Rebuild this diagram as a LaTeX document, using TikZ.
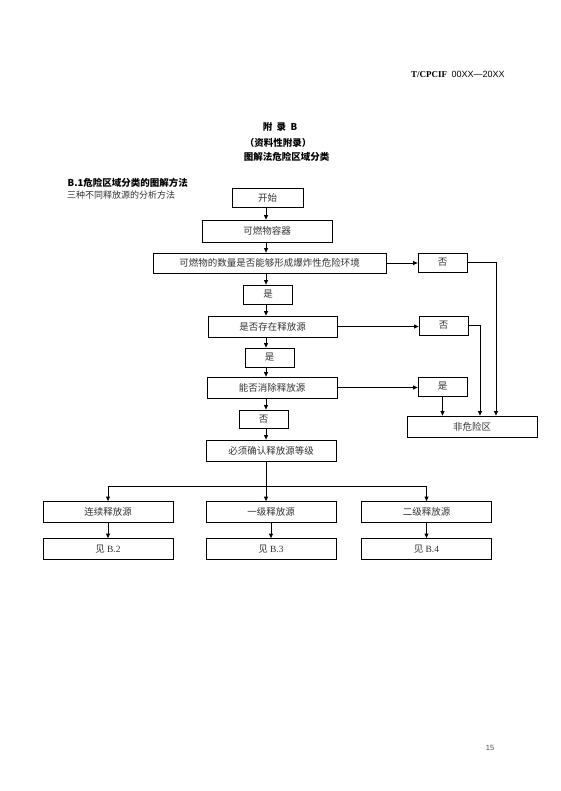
\documentclass[tikz,border=0pt]{standalone}
\usepackage{fontspec}
\setmainfont{Liberation Serif}
\newfontfamily\cjk{Noto Sans CJK SC}
\newfontfamily\hdsans{Liberation Sans}
\usetikzlibrary{arrows.meta}

\begin{document}
\begin{tikzpicture}[x=1pt,y=-1pt,
    box/.style={draw,line width=0.8pt,inner sep=0pt,text=black!80,
      font=\cjk\fontsize{9.5}{11}\selectfont},
    yn/.style={box,minimum width=49pt,minimum height=19pt},
    wide/.style={box,minimum width=130pt,minimum height=21pt},
    arr/.style={line width=0.8pt,-{Triangle[length=4.5pt,width=4pt]}},
    ln/.style={line width=0.8pt}]
        \useasboundingbox[fill=white] (0,0) rectangle (560,791);
        % page head
        \node[anchor=west,inner sep=0pt] (code) at (411,74)
          {\fontsize{9}{10}\selectfont\bfseries T/CPCIF\ \ {\hdsans\mdseries 00XX—20XX}};
        \node[font=\cjk\bfseries\fontsize{9.5}{11}\selectfont] (app) at (280,127) {附\ \ 录\ \ B};
        \node[font=\cjk\bfseries\fontsize{9.5}{11}\selectfont] (inf) at (278,143) {（资料性附录）};
        \node[font=\cjk\bfseries\fontsize{9.5}{11}\selectfont] (ttl) at (286.5,157) {图解法危险区域分类};
        \node[anchor=west,inner sep=0pt,font=\cjk\bfseries\fontsize{9.5}{11}\selectfont] (sec) at (67.5,183) {B.1危险区域分类的图解方法};
        \node[anchor=west,inner sep=0pt,text=black!80,font=\cjk\fontsize{9}{11}\selectfont] (sub) at (67,195.5) {三种不同释放源的分析方法};
        \node[font=\hdsans\fontsize{7.5}{9}\selectfont,text=black!70] (pg) at (490,748) {15};
        % flow chart
        \coordinate (tk) at (266,0);
        \node[box,minimum width=71pt,minimum height=19pt] (start) at (267.5,197.5) {开始};
        \node[wide,minimum height=22pt] (cont) at (267,231) {可燃物容器};
        \node[box,minimum width=233pt,minimum height=20pt] (qty) at (269.5,263) {可燃物的数量是否能够形成爆炸性危险环境};
        \node[yn] (no1) at (442.5,262.5) {否};
        \node[yn] (yes1) at (268,294.5) {是};
        \node[wide,minimum width=129pt] (src) at (272.5,326.5) {是否存在释放源};
        \node[yn] (no2) at (443.5,325.5) {否};
        \node[yn] (yes2) at (269.5,357.5) {是};
        \node[wide] (elim) at (272,387.5) {能否消除释放源};
        \node[yn] (yes3) at (442.5,386.5) {是};
        \node[wide] (safe) at (472,426.5) {非危险区};
        \node[yn,minimum height=18pt] (no3) at (263.5,419) {否};
        \node[wide] (grade) at (271,450.5) {必须确认释放源等级};
        \foreach \a/\b in {start/cont,cont/qty,qty/yes1,yes1/src,src/yes2,yes2/elim,elim/no3,no3/grade}
          \draw[arr] (\a.south -| tk) -- (\b.north -| tk);
        \draw[arr] (qty.east) -- (qty.east -| no1.west);
        \draw[arr] (src.east) -- (src.east -| no2.west);
        \draw[arr] (elim.east) -- (elim.east -| yes3.west);
        \draw[arr] (no1.east) -| ([xshift=24pt]safe.north);
        \draw[arr] (no2.east) -| ([xshift=8pt]safe.north);
        \draw[arr] (yes3.south) -- (yes3.south |- safe.north);
        % three grades of release
        \coordinate (br) at (266,486);
        \foreach \n/\x/\t/\r in {1/108/连续释放源/B.2,2/271/一级释放源/B.3,3/426.5/二级释放源/B.4}{
          \node[wide] (l\n) at (\x,512) {\t};
          \node[wide] (r\n) at (\x,549) {见 {\rmfamily\r}};
          \draw[arr] (l\n.south) -- (r\n.north);
        }
        \draw[arr] (grade.south -| tk) -- (l2.north -| tk);
        \draw[arr] (br) -| (l1.north);
        \draw[arr] (br) -| (l3.north);
      \end{tikzpicture}
\end{document}
